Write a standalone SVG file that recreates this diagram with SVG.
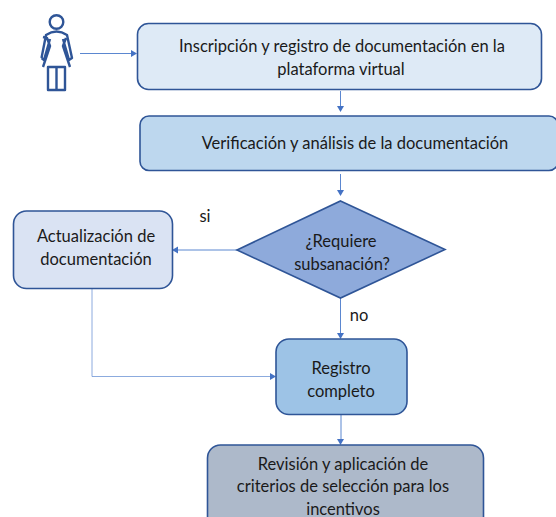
<svg xmlns="http://www.w3.org/2000/svg" width="556" height="517" viewBox="0 0 556 517">
<style>
text{font-family:"Lato","Carlito","Liberation Sans",sans-serif;font-size:16.5px;fill:#1a1a1a;text-anchor:middle}
.n{stroke:#2f5597;stroke-width:1.6}
.c{fill:none;stroke:#5b87d0;stroke-width:1}
.a{fill:#4472c4}
.p{fill:none;stroke:#2f5597;stroke-width:2.4;stroke-linejoin:round}
</style>
<rect width="556" height="517" fill="#fff"/>
<g id="connectors">
<path class="c" d="M80 53.500H132"/><path class="a" d="M137 53.500l-6-3.500v7z"/>
<path class="c" d="M340.500 91V106"/><path class="a" d="M340.500 112l-3.500-6h7z"/>
<path class="c" d="M340.500 174V190"/><path class="a" d="M340.500 196l-3.500-6h7z"/>
<path class="c" d="M237 250H178"/><path class="a" d="M172 250l6-3.500v7z"/>
<path class="c" d="M340.500 298V333"/><path class="a" d="M340.500 339l-3.500-6h7z"/>
<path class="c" stroke-opacity=".7" d="M92 289V376.500H270"/><path class="a" d="M276 376.500l-6-3.500v7z"/>
<path class="c" d="M341 415V439"/><path class="a" d="M340.500 445l-3.500-6h7z"/>
</g>
<g id="actor">
<circle class="p" cx="56.500" cy="22" r="6.800"/>
<path class="p" d="M48 67H65V90H48ZM56.500 67V90M43 67L50 46L47 38L43 37M70 67L63 46L66 38M41.500 58L46 35Q56.500 28 67 35L72 58L69 60L63 39M41.500 58L44 60L50 39"/>
</g>
<g id="n1">
<rect class="n" x="137.500" y="23.500" width="404" height="66" rx="11" fill="#deeaf6"/>
<text x="342" y="52">Inscripción y registro de documentación en la</text>
<text x="341" y="75">plataforma virtual</text>
</g>
<g id="n2">
<rect class="n" x="140" y="116" width="418" height="54.500" rx="9" fill="#bdd7ee"/>
<text x="355" y="149">Verificación y análisis de la documentación</text>
</g>
<g id="n3">
<path class="n" d="M340.500 201L445 249.500L340.500 298L237 250Z" fill="#8eaadb"/>
<text x="341" y="247">¿Requiere</text>
<text x="342" y="270">subsanación?</text>
</g>
<g id="n4">
<rect class="n" x="13.500" y="211" width="159" height="77.500" rx="13" fill="#dae3f3"/>
<text x="96" y="242">Actualización de</text>
<text x="96" y="265">documentación</text>
</g>
<g id="n5">
<rect class="n" x="276" y="339" width="131" height="75.500" rx="13" fill="#9dc3e6"/>
<text x="341" y="374">Registro</text>
<text x="341" y="397">completo</text>
</g>
<g id="n6">
<rect class="n" x="207.500" y="445" width="276" height="90" rx="13" fill="#adb9ca"/>
<text x="343" y="470">Revisión y aplicación de</text>
<text x="343" y="492">criterios de selección para los</text>
<text x="343" y="515">incentivos</text>
</g>
<text id="l-si" x="205" y="222">si</text>
<text id="l-no" x="359" y="321">no</text>
</svg>
